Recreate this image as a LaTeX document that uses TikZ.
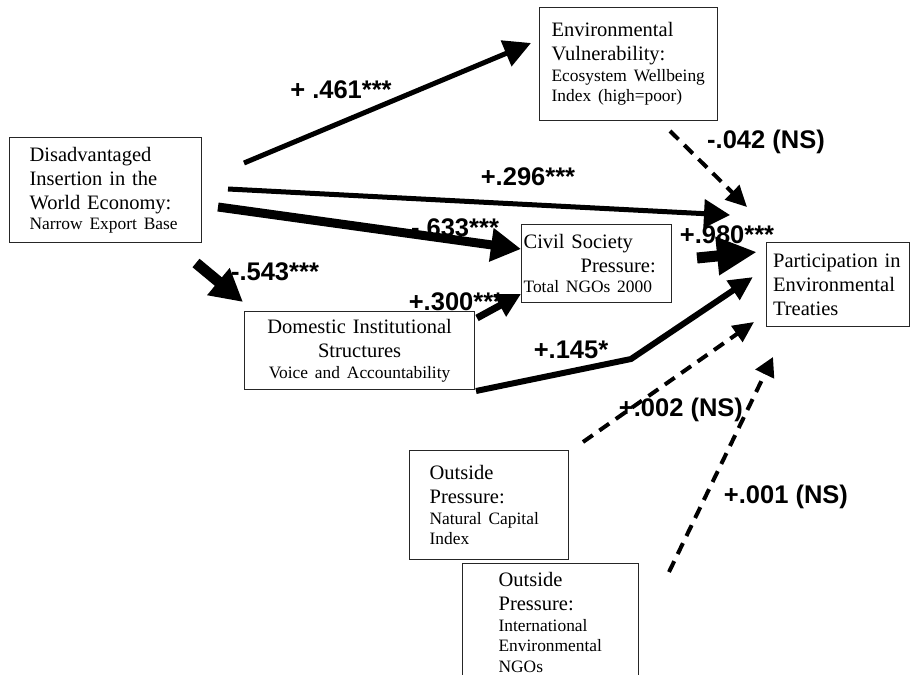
\documentclass[tikz,border=0pt]{standalone}
\usepackage{fontspec}
\setmainfont{Liberation Serif}
\setsansfont{Liberation Sans}
\usetikzlibrary{arrows.meta}
\setlength{\parindent}{0pt}
\newcommand{\boxtitle}{\fontsize{20.5}{24}\selectfont}
\newcommand{\boxnote}{\fontsize{17.4}{20.5}\selectfont}
\tikzstyle{factor}=[draw=black!85, line width=1.2pt, anchor=north west, inner ysep=0pt, font=\boxtitle, align=left]
\tikzstyle{coef}=[font=\sffamily\bfseries\fontsize{25.5}{30}\selectfont, inner sep=0pt]
\tikzstyle{weak}=[line width=4pt, dash pattern=on 12pt off 8pt]
\tikzset{tiphead/.style 2 args={-{Triangle[length=#1,width=#2]}}}

\begin{document}
\begin{tikzpicture}[x=1pt,y=-1pt]
	\useasboundingbox (0,0) rectangle (914,675);
	\node[factor, inner xsep=20pt, text width=152pt, minimum height=105pt] (insertion) at (9,137) {Disadvantaged\\Insertion in the\\World Economy:\par\boxnote Narrow Export Base\par};
	\node[factor, inner xsep=12pt, text width=154pt, minimum height=113pt] (vulner) at (539,7) {Environmental\\Vulnerability:\par\boxnote Ecosystem Wellbeing\\Index (high=poor)\par\vspace*{7pt}};
	\node[factor, inner xsep=2pt, text width=146pt, minimum height=78pt] (civil) at (521,224) {Civil Society\\\hspace*{57pt}Pressure:\par\boxnote Total NGOs 2000\par};
	\node[factor, inner xsep=6.5pt, text width=130pt, minimum height=84pt] (treaties) at (766,242) {Participation in\\Environmental\\Treaties\par};
	\node[factor, align=center, inner xsep=2pt, text width=226pt, minimum height=78pt] (domestic) at (244,311) {Domestic Institutional\\Structures\par\boxnote Voice and Accountability\par};
	\node[factor, inner xsep=20pt, text width=119pt, minimum height=109pt] (capital) at (409,450) {Outside\\Pressure:\par\boxnote Natural Capital\\Index\par};
	\node[factor, inner xsep=36pt, text width=104pt, minimum height=118pt] (ngos) at (462,563) {Outside\\Pressure:\par\boxnote International\\Environmental\\NGOs\par};

	\coordinate (ins-a) at (244,163);
	\coordinate (ins-b) at (228,189);
	\coordinate (ins-c) at (218,207);
	\coordinate (ins-d) at (196,263);
	\coordinate (vul-in) at (531,43);
	\coordinate (vul-out) at (670,131);
	\coordinate (civ-in) at (521,249);
	\coordinate (civ-in2) at (521,294);
	\coordinate (civ-out) at (697,258);
	\coordinate (dom-in) at (243,302);
	\coordinate (dom-out) at (477,318);
	\coordinate (dom-out2) at (476,391);
	\coordinate (dom-bend) at (631,359);
	\coordinate (cap-out) at (583,442);
	\coordinate (ngo-out) at (669,572);
	\coordinate (tre-a) at (730,215);
	\coordinate (tre-b) at (747,207);
	\coordinate (tre-c) at (757,252);
	\coordinate (tre-d) at (753,277);
	\coordinate (tre-e) at (754,322);
	\coordinate (tre-f) at (773,357);

	\draw[line width=5pt, tiphead={27pt}{27pt}] (ins-a) -- (vul-in);
	\draw[line width=5pt, tiphead={26pt}{28pt}] (ins-b) -- (tre-a);
	\draw[line width=9pt, tiphead={30pt}{32pt}] (ins-c) -- (civ-in);
	\draw[line width=11pt, tiphead={32pt}{33pt}] (ins-d) -- (dom-in);
	\draw[line width=7pt, tiphead={24pt}{24pt}] (dom-out) -- (civ-in2);
	\draw[line width=11pt, tiphead={40pt}{36pt}] (civ-out) -- (tre-c);
	\draw[line width=6pt, tiphead={24pt}{22pt}] (dom-out2) -- (dom-bend) -- (tre-d);
	\draw[weak, tiphead={21pt}{20pt}] (vul-out) -- (tre-b);
	\draw[weak, tiphead={21pt}{19pt}] (cap-out) -- (tre-e);
	\draw[weak, tiphead={19pt}{20pt}] (ngo-out) -- (tre-f);

	\node[coef] (c-vul) at (341,90) {+ .461***};
	\node[coef] (c-tre) at (528,177) {+.296***};
	\node[coef] (c-vt) at (766,142) {-.042 (NS)};
	\node[coef] (c-civ) at (455,228) {-.633***};
	\node[coef] (c-dom) at (275,272) {-.543***};
	\node[coef] (c-dc) at (456,302) {+.300***};
	\node[coef] (c-ct) at (727,235) {+.980***};
	\node[coef] (c-dt) at (571,350) {+.145*};
	\node[coef] (c-cap) at (681,410) {+.002 (NS)};
	\node[coef] (c-ngo) at (786,497) {+.001 (NS)};
\end{tikzpicture}
\end{document}
